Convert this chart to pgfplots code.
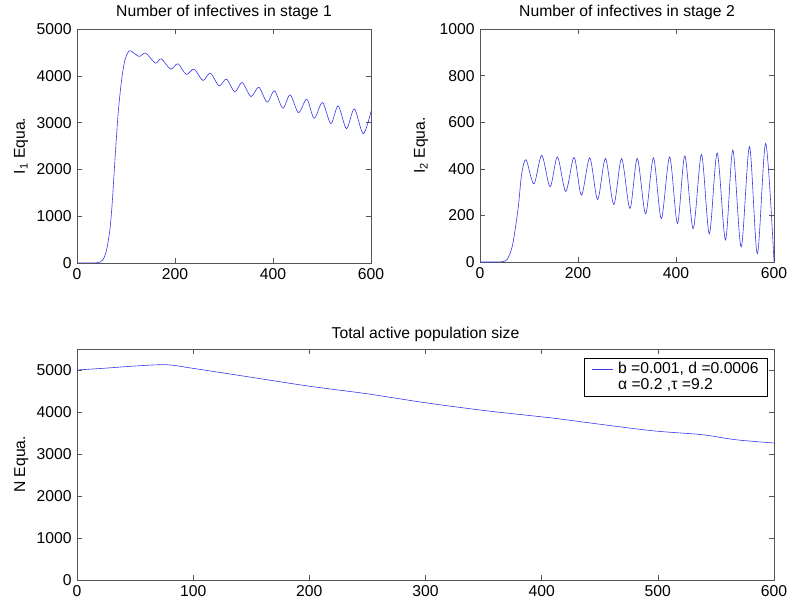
\documentclass[border=0pt]{standalone}
\usepackage{pgfplots}
\pgfplotsset{compat=1.18}
\usepackage{fontspec}
\setmainfont{Liberation Sans}

\definecolor{curve}{RGB}{55,55,235}
\definecolor{axgray}{RGB}{85,85,85}

\pgfplotsset{
  matlab/.style={
    scale only axis,
    axis line style={axgray, line width=0.6pt},
    every tick/.style={axgray, line width=0.6pt},
    tick align=inside,
    major tick length=5bp,
    scaled ticks=false,
    /pgf/number format/1000 sep={},
    /pgf/number format/assume math mode=true,
    title style={anchor=base, at={(axis description cs:0.5,1)}},
    xmin=0, xmax=600,
  },
  curvestyle/.style={curve, line width=0.6pt, smooth, no marks},
}

\begin{document}
\fontsize{15.7bp}{18.5bp}\selectfont
\begin{tikzpicture}
\useasboundingbox (0,0) rectangle (787bp,-605bp);

% stage 1
\begin{axis}[matlab,
  at={(77bp,-29bp)}, anchor=north west,
  width=294bp, height=234bp,
  ymin=0, ymax=5000,
  xtick={0,200,400,600}, ytick={0,1000,2000,3000,4000,5000},
  title={Number of infectives in stage 1},
  title style={yshift=7bp},
  ylabel={I\textsubscript{1} Equa.},
  ylabel style={at={(axis description cs:-0.190,0.5)}, anchor=center},
]
\addplot[curvestyle] coordinates {
  (0,0) (20,0) (38,4) (47,20) (53,70) (60,260) (67,700) (72,1300) (77,2130)
  (84,3200) (91,3910) (97,4300) (103,4480) (109,4535)
  (127,4414) (140,4486) (160,4271) (172,4364) (191,4143) (206,4257)
  (223,4029) (239,4143) (257,3900) (272,4057) (290,3786) (305,3929)
  (322,3657) (337,3857) (355,3557) (371,3757) (388,3436) (403,3679)
  (420,3307) (435,3593) (452,3214) (469,3500) (484,3093) (501,3429)
  (518,2979) (533,3357) (550,2871) (566,3293) (584,2764) (600,3236)
};
\end{axis}

% stage 2
\begin{axis}[matlab,
  at={(480bp,-29bp)}, anchor=north west,
  width=294bp, height=233bp,
  ymin=0, ymax=1000,
  xtick={0,200,400,600}, ytick={0,200,400,600,800,1000},
  title={Number of infectives in stage 2},
  title style={yshift=7bp},
  ylabel={I\textsubscript{2} Equa.},
  ylabel style={at={(axis description cs:-0.200,0.5)}, anchor=center},
]
\addplot[curvestyle] coordinates {
  (0,0) (25,0) (44,1) (54,8) (62,40) (68,90) (78,233) (85,378) (94,439)
  (110,335) (126,458) (143,323) (158,451) (175,303) (192,449)
  (207,287) (224,447) (240,268) (256,444) (273,247) (289,444)
  (306,230) (321,444) (338,207) (354,447) (370,186) (387,451)
  (403,166) (418,455) (435,143) (452,461) (468,121) (484,468)
  (501,95) (516,480) (533,65) (550,495) (566,36) (583,509) (600,3)
};
\end{axis}

% total population
\begin{axis}[matlab,
  at={(77bp,-349bp)}, anchor=north west,
  width=697bp, height=231bp,
  ymin=0, ymax=5500,
  xtick={0,100,200,300,400,500,600}, ytick={0,1000,2000,3000,4000,5000},
  title={Total active population size},
  title style={yshift=5bp},
  ylabel={N Equa.},
  ylabel style={at={(axis description cs:-0.080,0.5)}, anchor=center},
  legend cell align=left,
  legend image code/.code={\draw[#1] (0bp,0bp) -- (21bp,0bp);},
  legend style={at={(axis description cs:0.9914,0.961)}, anchor=north east,
    draw=black, line width=0.6pt, inner xsep=7bp, inner ysep=2bp,
    row sep=-1bp, font=\fontsize{15.7bp}{18.5bp}\selectfont,
    /tikz/every odd column/.append style={column sep=3bp}},
]
\addplot[curvestyle] coordinates {
  (0,5000) (25,5045) (50,5095) (77,5126) (100,5039) (150,4827)
  (200,4614) (250,4433) (300,4220) (352,4031) (409,3857) (438,3752)
  (495,3555) (538,3460) (567,3340) (600,3262)
};
\addlegendentry{b =0.001, d =0.0006\hspace{12bp}}
\addlegendimage{legend image code/.code={}}
\addlegendentry{α =0.2 ,τ =9.2}
\end{axis}
\end{tikzpicture}
\end{document}
